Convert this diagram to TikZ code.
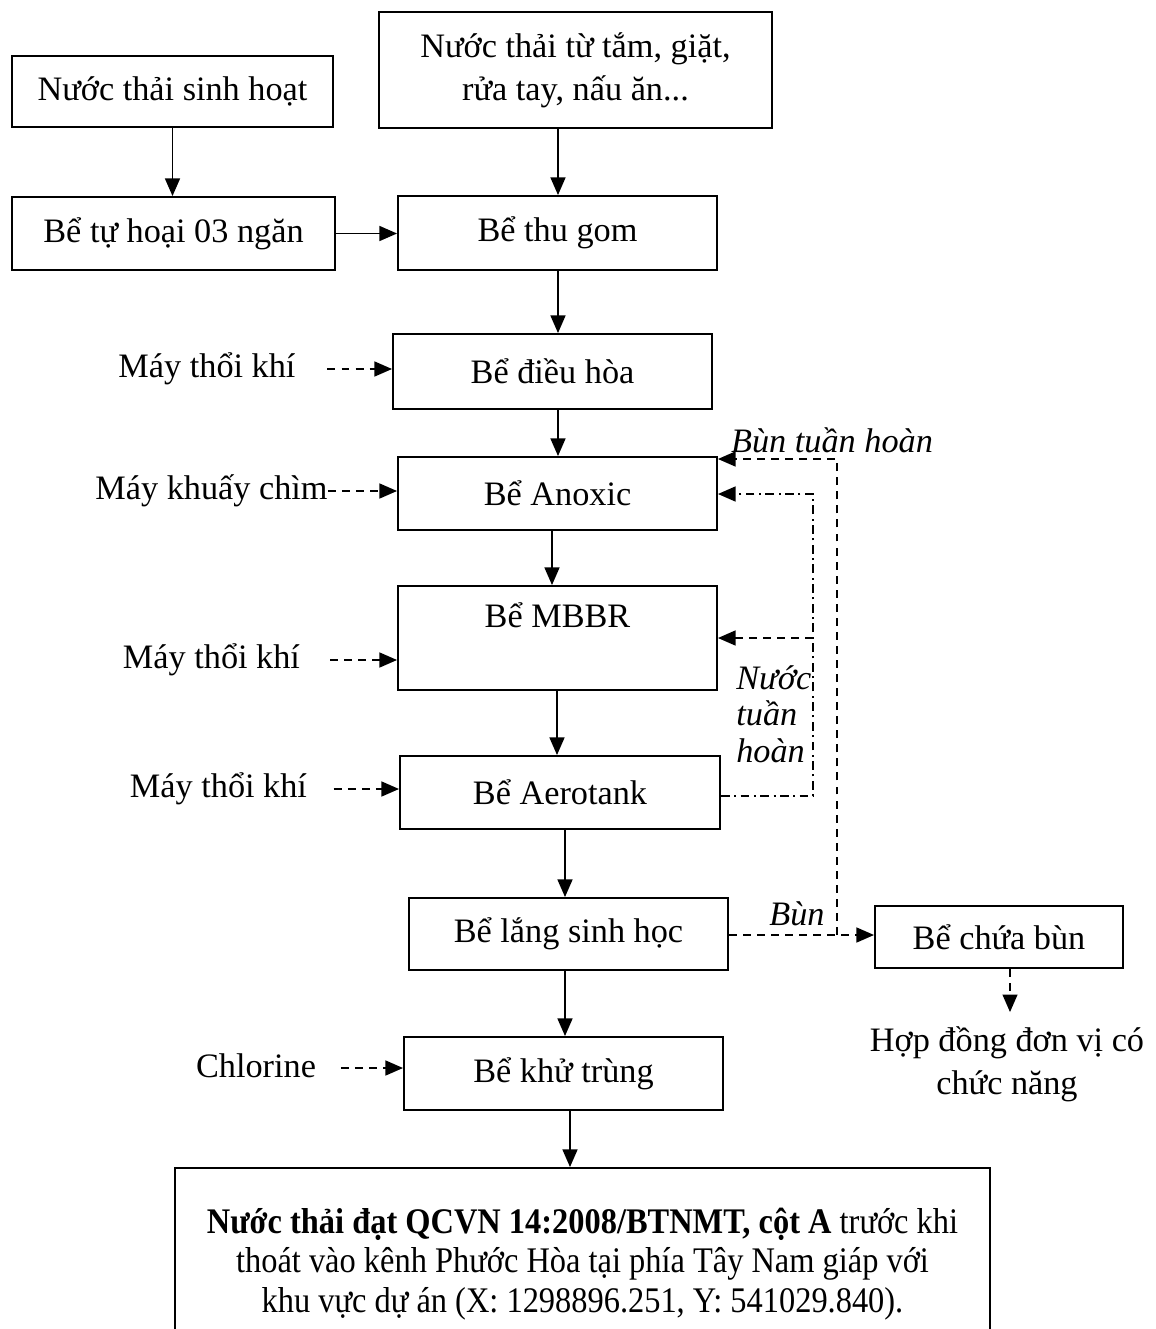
\documentclass[tikz,border=0pt]{standalone}
\usepackage{fontspec}
\setmainfont{Liberation Serif}
\newfontfamily\condfont{Liberation Serif}[FakeStretch=0.9]
\usetikzlibrary{arrows.meta,calc}
\begin{document}
\begin{tikzpicture}[x=0.02cm,y=-0.02cm,
  font=\fontsize{19.5pt}{24.4pt}\selectfont,
  box/.style={draw,line width=1.1pt,inner sep=2pt,align=center},
  sz/.style 2 args={minimum width=#1*0.02cm,minimum height=#2*0.02cm},
  lbl/.style={inner sep=0pt,align=center},
  arr/.style={line width=0.9pt,-{Triangle[length=10pt,width=8.5pt]}},
  darr/.style={arr,dash pattern=on 4.5pt off 3.5pt},
  ddarr/.style={arr,dash pattern=on 5pt off 2.5pt on 1.2pt off 2.5pt}]
\useasboundingbox (0,0) rectangle (1156,1329);

% boxes
\node[box,sz={321}{71}] (sh) at (172.5,91.5) {Nước thải sinh hoạt};
\node[box,sz={393}{116}] (tam) at (575.5,70) {Nước thải từ tắm, giặt,\\rửa tay, nấu ăn...};
\node[box,sz={323}{73}] (th) at (173.5,233.5) {Bể tự hoại 03 ngăn};
\node[box,sz={319}{74}] (tg) at (557.5,233) {Bể thu gom};
\node[box,sz={319}{75}] (dh) at (552.5,371.5) {Bể điều hòa};
\node[box,sz={319}{73}] (ax) at (557.5,493.5) {Bể Anoxic};
\node[box,sz={319}{104}] (mb) at (557.5,638) {Bể MBBR\\[2pt]~};
\node[box,sz={320}{73}] (ae) at (560,792.5) {Bể Aerotank};
\node[box,sz={319}{72}] (lg) at (568.5,934) {Bể lắng sinh học};
\node[box,sz={248}{62}] (cb) at (999,937) {Bể chứa bùn};
\node[box,sz={319}{73}] (kt) at (563.5,1073.5) {Bể khử trùng};
\node[box,sz={815}{192},font=\condfont\fontsize{20.5pt}{22.7pt}\selectfont] (out) at (582.5,1264) {\textbf{Nước thải đạt QCVN 14:2008/BTNMT, cột A} trước khi\\thoát vào kênh Phước Hòa tại phía Tây Nam giáp với\\khu vực dự án (X: 1298896.251, Y: 541029.840).};

% side labels
\node[lbl] (m1) at (207,369) {Máy thổi khí};
\node[lbl] (mk) at (211.5,491) {Máy khuấy chìm};
\node[lbl] (m2) at (211.5,660) {Máy thổi khí};
\node[lbl] (m3) at (218.5,789) {Máy thổi khí};
\node[lbl] (cl) at (256,1066) {Chlorine};
\node[lbl] (hd) at (1007,1064) {Hợp đồng đơn vị có\\chức năng};
\node[lbl,anchor=base,font=\fontsize{19.5pt}{24.4pt}\selectfont\itshape] (bth) at (832,452) {Bùn tuần hoàn};
\node[lbl,align=left,anchor=west,font=\fontsize{19.5pt}{20.7pt}\selectfont\itshape] (ntr) at (736,714) {Nước\\tuần\\hoàn};
\node[lbl,anchor=base,font=\fontsize{19.5pt}{24.4pt}\selectfont\itshape] (bun) at (797,925) {Bùn};

% main flow
\draw[arr] (sh.south) -- (sh.south |- th.north);
\draw[arr] (tam.south -| 558,0) -- (tg.north -| 558,0);
\draw[arr] (th.east) -- (th.east -| tg.west);
\draw[arr] (tg.south -| 558,0) -- (dh.north -| 558,0);
\draw[arr] (dh.south -| 558,0) -- (ax.north -| 558,0);
\draw[arr] (ax.south -| 552,0) -- (mb.north -| 552,0);
\draw[arr] (mb.south -| 557,0) -- (ae.north -| 557,0);
\draw[arr] (ae.south -| 565,0) -- (lg.north -| 565,0);
\draw[arr] (lg.south -| 565,0) -- (kt.north -| 565,0);
\draw[arr] (kt.south -| 570,0) -- (out.north -| 570,0);

% inputs
\draw[darr,shorten <=18pt] (m1.east) -- (m1.east -| dh.west);
\draw[darr] (mk.east) -- (mk.east -| ax.west);
\draw[darr,shorten <=17pt] (m2.east) -- (m2.east -| mb.west);
\draw[darr,shorten <=15pt] (m3.east) -- (m3.east -| ae.west);
\draw[darr,shorten <=14pt] (cl.east |- 0,1068) -- (kt.west |- 0,1068);

% sludge
\draw[darr] (lg.east |- 0,935) -- (cb.west |- 0,935);
\draw[darr] (837,935) -- (837,459) -- (ax.east |- 0,459);
\draw[darr,shorten >=8pt] (cb.south -| 1010,0) -- (hd.north -| 1010,0);

% recirculation water
\draw[ddarr] (ae.east |- 0,796) -- (813,796) -- (813,494) -- (ax.east |- 0,494);
\draw[darr] (813,638) -- (mb.east |- 0,638);
\end{tikzpicture}
\end{document}
